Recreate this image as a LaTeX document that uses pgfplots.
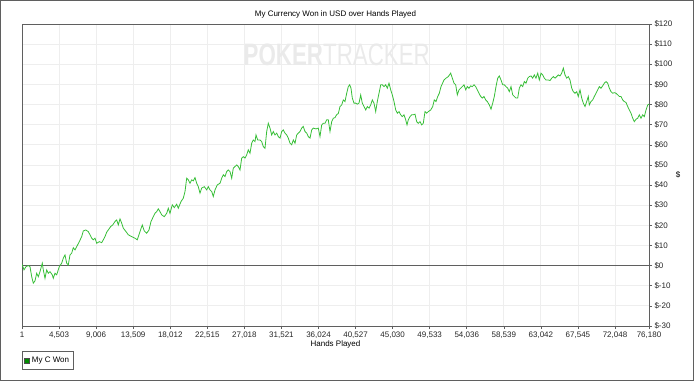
\documentclass[border=0pt]{standalone}
\usepackage{fontspec}
\setmainfont{Liberation Sans}
\usepackage{pgfplots}
\pgfplotsset{compat=1.18}
\definecolor{lineg}{RGB}{55,190,55}
\definecolor{frameg}{RGB}{95,95,95}
\definecolor{gridg}{RGB}{238,238,238}
\definecolor{wmark}{RGB}{234,234,234}
\begin{document}
\begin{tikzpicture}
\begin{axis}[
  scale only axis, width=627pt, height=302pt,
  xmin=1, xmax=76180, ymin=-30, ymax=120,
  scaled x ticks=false, scaled y ticks=false,
  xtick={1,4503,9006,13509,18012,22515,27018,31521,36024,40527,45030,49533,54036,58539,63042,67545,72048,76180},
  xticklabels={1,{4,503},{9,006},{13,509},{18,012},{22,515},{27,018},{31,521},{36,024},{40,527},{45,030},{49,533},{54,036},{58,539},{63,042},{67,545},{72,048},{76,180}},
  ytick={-30,-20,-10,0,10,20,30,40,50,60,70,80,90,100,110,120},
  yticklabels={\$-30,\$-20,\$-10,\$0,\$10,\$20,\$30,\$40,\$50,\$60,\$70,\$80,\$90,\$100,\$110,\$120},
  ytick pos=right, yticklabel pos=right,
  xtick pos=bottom,
  tick align=outside, major tick length=3pt,
  tick style={frameg, line width=0.6pt},
  ticklabel style={font=\fontsize{8}{9}\selectfont, text=black!85},
  yticklabel style={anchor=west, xshift=-1pt},
  xticklabel style={yshift=1pt},
  grid=major, major grid style={gridg, line width=0.8pt},
  axis line style={frameg, line width=1pt},
  every axis title shift=0pt,
  title={My Currency Won in USD over Hands Played},
  title style={font=\fontsize{8}{9}\selectfont, at={(axis description cs:0.5,1)}, anchor=center, yshift=10pt},
  xlabel={Hands Played},
  xlabel style={font=\fontsize{8}{9}\selectfont, at={(axis description cs:0.5,0)}, anchor=center, yshift=-18pt},
  ylabel={\$},
  ylabel style={font=\fontsize{8}{9}\selectfont, at={(axis description cs:1,0.5)}, anchor=center, rotate=-90, xshift=29pt},
  legend style={at={(axis description cs:0,-0.0828)}, anchor=north west, draw=frameg, line width=0.8pt, font=\fontsize{8}{9}\selectfont, inner xsep=2pt, inner ysep=3.5pt},
  legend image code/.code={\draw[fill=green!55!black, draw=black!70, line width=0.5pt] (0pt,-2.5pt) rectangle (5pt,2.5pt);},
  clip=true,
]
\coordinate (SW) at (rel axis cs:0,0);
\node[wmark, inner sep=0pt] at (rel axis cs:0.502,0.897) {\scalebox{0.72}[1]{\fontsize{31}{31}\selectfont\textbf{POKER}TRACKER}};
\addplot[frameg, line width=1pt, forget plot] coordinates {(1,0) (76180,0)};
\addplot[lineg, line width=0.8pt] coordinates {
(1,0.7) (243,-2.1) (486,-0.5) (765,0) (972,-0.5) (1179,-5.5) (1373,-8.7) (1580,-7.6) (1786,-3.8) (1980,-5.5)
(2187,-3) (2466,1.2) (2588,-2.1) (2795,-6.3) (3001,-2.1) (3195,-3.8) (3402,-3) (3681,-4.6) (3803,-6.3) (4010,-3.8)
(4216,-4.6) (4532,-0.5) (4824,1.2) (5018,3.7) (5225,5.3) (5431,1.2) (5625,0.3) (5832,5.3) (6039,6.2) (6233,8.9)
(6440,7.8) (6646,9.4) (6962,11.9) (7254,14.4) (7448,17.2) (7740,17.7) (8055,16.9) (8262,15.3) (8469,13.6) (8663,12.8)
(8870,13.6) (9076,11.1) (9392,11.9) (9684,11.4) (9878,12.8) (10085,14.4) (10291,16.6) (10485,17.7) (10777,19.4) (11020,20.2)
(11300,21.9) (11506,22.7) (11700,20.2) (11907,23.2) (12114,21.1) (12308,18.6) (12636,16.9) (12915,15.3)
(13329,14.4) (13730,13.6) (14009,12.8) (14337,16.9) (14616,20.2) (14859,17.2) (15151,16.1) (15431,17.7) (15674,21.9) (15953,24.3)
(16160,26) (16366,26.8) (16560,28.2) (16767,26.8) (16974,25.2) (17289,24.3) (17581,26) (17775,28.5) (17982,26) (18261,30.2)
(18504,28.8) (18796,30.5) (18990,28.5) (19319,31.8) (19598,33.5) (19805,36.8) (20011,43.4) (20205,42.6) (20412,40.9) (20619,42.6)
(20813,42.1) (21020,43.7) (21226,40.9) (21420,39.2) (21627,36) (21834,38.5) (22149,39.2) (22441,37.6) (22635,39.2) (22842,37.6)
(23049,36.8) (23243,34.3) (23450,37.6) (23729,40.1) (24057,40.9) (24264,43.4) (24458,45.1) (24665,44.2) (24871,46.7) (25065,47.5)
(25272,46.7) (25479,43.4) (25673,48.4)
(25880,49.2) (26086,50) (26280,49.2) (26487,47.5) (26694,53.4) (26888,54.1) (27095,53.4) (27301,55) (27495,57.5) (27702,55.8)
(27909,60.8) (28103,62.4) (28310,61.6) (28431,64.9) (28638,62.4) (28917,62.4) (29124,61.6) (29318,59.1) (29525,58.3) (29731,66.6)
(29925,70.7) (30132,68.3) (30339,64.9) (30533,66.6) (30740,64.9) (30946,65.8) (31140,64.1) (31347,63.3) (31554,66.6) (31748,67.4)
(31955,65.8) (32161,64.9) (32355,63.3) (32562,60.8) (32769,60) (32963,62.4) (33170,60.8) (33376,64.9) (33570,65.8) (33777,66.6)
(33984,68.3) (34178,69.1) (34385,66.6) (34591,65.8) (34785,64.1) (34992,63.3) (35199,67.4) (35393,68.3) (35721,67.9) (36000,68.3)
(36207,64.1) (36414,69.9) (36608,70.7) (36815,70.7) (37021,72.4) (37215,72.4) (37422,66.6) (37629,71.5) (37823,73.2) (38030,73.5)
(38236,75) (38430,75.5) (38637,79) (38844,79.8) (39038,82.3) (39245,81.5) (39451,85.6) (39645,88.9) (39816,89.8) (39974,88.1)
(40132,83.2) (40338,80.7) (40545,80.7) (40740,80.2) (40946,80.7) (41152,84.8) (41346,80.7) (41553,79) (41760,77.3) (41954,79)
(42161,78.2) (42367,79.8) (42561,82.3) (42768,80.7) (42975,76.5) (43169,81.5) (43376,85.6) (43582,89.8) (43776,89.8) (43983,88.9)
(44190,89.8) (44384,88.1) (44591,90.6) (44797,87.3) (44991,84.8) (45198,81.5) (45405,77.3) (45599,75.7) (45806,76.5) (46012,74.9)
(46206,74) (46413,74.9) (46620,72.4) (46778,69.9) (46935,72.4) (47142,74) (47349,74.9) (47543,74.9) (47750,75.2) (47956,71.5)
(48150,70.7) (48357,71.5) (48564,69.9) (48758,70.7) (48965,76.5) (49171,75.7) (49365,76.5) (49657,77.3) (49900,79) (50094,82.3)
(50301,81.5) (50508,84) (50702,85.6) (50909,88.9)
(51273,92.2) (51516,93.1) (51795,93.9) (52087,95.6) (52281,93.1) (52488,90.6) (52695,89.8) (52889,84.8) (53096,87.3) (53302,88.1)
(53496,88.9) (53703,89.8) (53910,87.3) (54104,88.9) (54311,88.1) (54517,89.3) (54711,88.9) (54918,89.8) (55125,88.9) (55319,87.3)
(55526,85.6) (55732,84) (55926,83.2) (56133,84) (56340,82.3) (56534,81.5) (56777,79.8) (56984,77.7) (57190,80.7) (57384,84)
(57591,88.9) (57798,93.1) (57992,94.2) (58199,92.2) (58405,89.8) (58599,89.8) (58806,88.9) (59013,88.1) (59207,86.4) (59414,88.9)
(59620,84.8) (59814,84) (60021,83.2) (60228,83.2) (60422,88.1) (60629,89.8) (60835,88.9) (61029,91.4) (61236,90.6) (61443,93.1)
(61637,93.9) (61844,94.2) (62050,93.1) (62244,94.7) (62451,93.1) (62658,95.6) (62852,92.2) (63059,95.6) (63265,94.7) (63459,93.1)
(63666,92.2)
(63945,92.2) (64152,91.9) (64359,93.1) (64553,93.9) (64760,93.1) (64966,93.9) (65160,94.7) (65367,94.2) (65574,95.6) (65768,98.1)
(65975,94.7) (66181,93.1) (66375,93.9) (66582,92.2) (66789,88.1) (66983,86.4) (67190,85.6) (67396,86.4) (67590,84) (67797,87.3)
(68004,83.2) (68198,80.7) (68405,79) (68611,81.5) (68805,84) (68927,79.8) (69134,81.5) (69340,82.3) (69534,84) (69741,85.6)
(69948,87.3) (70142,88.9) (70349,88.1) (70555,89.3) (70749,90.6) (70956,91.4) (71163,90.6) (71357,88.1) (71564,86.4) (71770,85.6)
(71964,85.9) (72171,85.6) (72378,84.8) (72572,84) (72779,84) (72985,82.3) (73179,81.5) (73386,81) (73593,79) (73787,77.3)
(73994,75.7) (74200,73.2) (74394,71.5) (74601,72.7) (74808,73.2) (75002,74.9) (75209,73.2) (75415,74.9) (75609,74) (75816,77.3)
(76023,79.8) (76180,80.2)
};
\addlegendentry{My C Won}
\end{axis}
\useasboundingbox ([shift={(-22pt,-55pt)}]SW) rectangle ([shift={(678pt,326pt)}]SW);
\draw[frameg, line width=1pt] ([shift={(-21pt,-54pt)}]SW) rectangle ([shift={(671pt,325pt)}]SW);
\end{tikzpicture}
\end{document}
